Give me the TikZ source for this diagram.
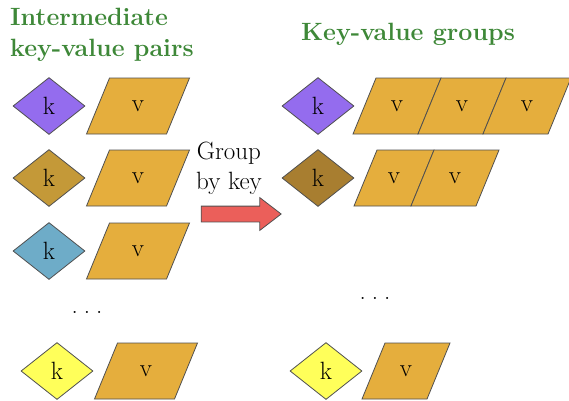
\documentclass[tikz,border=0pt]{standalone}
\usepackage{fontspec}
\usetikzlibrary{shapes.geometric,shapes.arrows}
\definecolor{edgegray}{RGB}{80,80,80}
\definecolor{titlegreen}{RGB}{62,136,56}
\definecolor{valgold}{RGB}{229,174,61}
\definecolor{keypurple}{RGB}{148,108,238}
\definecolor{keyochre}{RGB}{196,153,56}
\definecolor{keybrown}{RGB}{168,126,48}
\definecolor{keyblue}{RGB}{110,172,200}
\definecolor{keyyellow}{RGB}{255,255,90}
\definecolor{arrowred}{RGB}{235,95,90}
\newcommand{\rowdots}{.\hspace{6pt}.\hspace{6pt}.}
\tikzset{
    keybox/.style={diamond,draw=edgegray,line width=0.8pt,aspect=1.26,
        minimum width=72pt,minimum height=57pt,inner sep=0pt},
    pics/valbox/.style={code={
        \draw[edgegray,fill=valgold,line width=0.8pt] (-#1/2-11.5,28) -- (#1/2-11.5,28)
            -- (#1/2+11.5,-28) -- (-#1/2+11.5,-28) -- cycle;
        \node[inner sep=0pt] (-v) {v};
    }},
    heading/.style={font=\fontsize{25}{31}\selectfont\bfseries,text=titlegreen,
        align=left,inner sep=0pt}
}
\begin{document}
\begin{tikzpicture}[x=1pt,y=-1pt,font=\fontsize{25}{30}\selectfont]
    \useasboundingbox (0,0) rectangle (569,400);
    %% headings
    \node[heading,anchor=north west] (pairstitle) at (10,8) {Intermediate\\key-value pairs};
    \node[heading,anchor=base west] (groupstitle) at (301,40) {Key-value groups};
    %% intermediate pairs
    \node[keybox,fill=keypurple] (k1) at (49,106) {k};
    \pic (v1) at (138,106) {valbox=80};
    \node[keybox,fill=keyochre] (k2) at (49,178) {k};
    \pic (v2) at (138,178) {valbox=80};
    \node[keybox,fill=keyblue] (k3) at (49,251) {k};
    \pic (v3) at (138,251) {valbox=80};
    \node (leftdots) at (87,312) {\rowdots};
    \node[keybox,fill=keyyellow] (k4) at (57,371) {k};
    \pic (v4) at (146,371) {valbox=80};
    %% shuffle arrow
    \node[align=center,inner sep=0pt,anchor=north] (grouplabel) at (229,142) {Group\\by key};
    \node[single arrow,single arrow head extend=8.5pt,single arrow tip angle=75,
        draw=edgegray,line width=0.8pt,fill=arrowred,minimum height=80pt,
        inner xsep=0pt,inner ysep=7.5pt] (grouparrow) at (236,214) {};
    %% key-value groups
    \node[keybox,fill=keypurple] (gk1) at (318,106) {k};
    \pic (gv11) at (397,106) {valbox=65};
    \pic (gv12) at (462,106) {valbox=65};
    \pic (gv13) at (527,106) {valbox=65};
    \node[keybox,fill=keybrown] (gk2) at (318,178) {k};
    \pic (gv21) at (394,178) {valbox=57};
    \pic (gv22) at (455,178) {valbox=65};
    \node (rightdots) at (375,298) {\rowdots};
    \node[keybox,fill=keyyellow] (gk4) at (326,371) {k};
    \pic (gv41) at (406,371) {valbox=65};
\end{tikzpicture}
\end{document}
